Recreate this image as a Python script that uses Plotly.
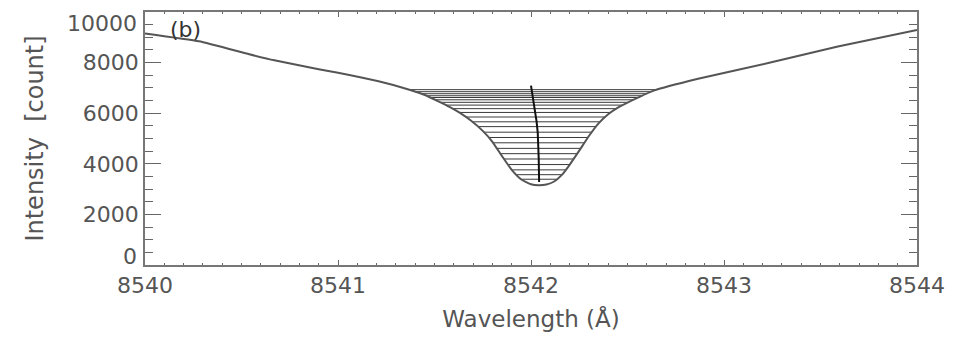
import numpy as np
import plotly.graph_objects as go

# Line profile (wavelength in Angstrom, intensity in counts)
wavelength = [8540.00, 8540.28, 8540.54, 8540.67, 8540.90, 8541.00, 8541.21, 8541.37,
              8541.45, 8541.52, 8541.58, 8541.63, 8541.69, 8541.75, 8541.80, 8541.85,
              8541.90, 8541.95, 8542.00, 8542.04, 8542.08, 8542.12, 8542.16, 8542.20,
              8542.25, 8542.30, 8542.35, 8542.40, 8542.45, 8542.49, 8542.64, 8542.86,
              8543.24, 8543.59, 8544.00]
intensity = [9150, 8840, 8330, 8090, 7740, 7600, 7260, 6930,
             6720, 6470, 6240, 6020, 5700, 5300, 4870, 4300,
             3760, 3380, 3190, 3150, 3180, 3300, 3560, 3960,
             4520, 5100, 5600, 5960, 6220, 6380, 6900, 7350,
             8000, 8640, 9290]

# Intensity levels of the horizontal chords
chord_levels = [6930, 6850, 6770, 6690, 6620, 6530, 6430, 6320, 6180, 6030, 5850, 5660,
                5470, 5250, 5040, 4830, 4610, 4400, 4190, 3970, 3760, 3570, 3390]

# Bisector
bisector_wl = [8542.000, 8542.007, 8542.021, 8542.029, 8542.035, 8542.038, 8542.040, 8542.042]
bisector_I = [7090, 6770, 6120, 5670, 5220, 4830, 4190, 3280]

x_ticks = [8540, 8541, 8542, 8543, 8544]
y_ticks = [0, 2000, 4000, 6000, 8000, 10000]
y_ticktext = ["", "2000", "4000", "6000", "8000", ""]

wl = np.array(wavelength)
inten = np.array(intensity, dtype=float)
imin = int(np.argmin(inten))
lw, li = wl[:imin + 1], inten[:imin + 1]
rw, ri = wl[imin:], inten[imin:]

cx, cy = [], []
for lev in chord_levels:
    xl = np.interp(lev, li[::-1], lw[::-1])
    xr = np.interp(lev, ri, rw)
    cx += [xl, xr, None]
    cy += [lev, lev, None]

FONT = "DejaVu Sans"
GREY = "#555555"

fig = go.Figure()
fig.add_trace(go.Scatter(x=cx, y=cy, mode="lines",
                         line=dict(color="#3a3a3a", width=1), hoverinfo="skip"))
fig.add_trace(go.Scatter(x=wavelength, y=intensity, mode="lines",
                         line=dict(color="#555555", width=2, shape="spline", smoothing=0.4)))
fig.add_trace(go.Scatter(x=bisector_wl, y=bisector_I, mode="lines",
                         line=dict(color="#111111", width=2)))

fig.update_layout(
    width=955, height=338,
    margin=dict(l=145, r=35, t=10, b=70),
    paper_bgcolor="white", plot_bgcolor="white",
    showlegend=False,
    font=dict(family=FONT, color=GREY, size=22),
    xaxis=dict(
        range=[8540, 8544], tickmode="array", tickvals=x_ticks,
        ticks="inside", ticklen=5, tickwidth=1.2, tickcolor="#666666",
        showline=True, linecolor="#777777", linewidth=1.5, mirror="ticks",
        showgrid=False, zeroline=False,
        tickfont=dict(family=FONT, size=22, color=GREY),
        minor=dict(tickmode="linear", tick0=8540, dtick=0.1, ticks="inside",
                   ticklen=2.5, tickwidth=1, tickcolor="#666666", showgrid=False),
        title=dict(text="Wavelength (Å)", font=dict(family=FONT, size=23, color=GREY),
                   standoff=14),
    ),
    yaxis=dict(
        range=[0, 10000], tickmode="array", tickvals=y_ticks, ticktext=y_ticktext,
        ticks="inside", ticklen=16, tickwidth=1.2, tickcolor="#666666",
        showline=True, linecolor="#777777", linewidth=1.5, mirror="ticks",
        showgrid=False, zeroline=False,
        tickfont=dict(family=FONT, size=22, color=GREY),
        minor=dict(tickmode="linear", tick0=0, dtick=500, ticks="inside",
                   ticklen=8, tickwidth=1, tickcolor="#666666", showgrid=False),
        title=dict(text="Intensity  [count]", font=dict(family=FONT, size=24, color=GREY),
                   standoff=32),
    ),
    annotations=[
        dict(text="10000", x=0, xref="paper", y=10000, yref="y", xanchor="right",
             yanchor="middle", xshift=-6, yshift=-11, showarrow=False,
             font=dict(family=FONT, size=22, color=GREY)),
        dict(text="0", x=0, xref="paper", y=0, yref="y", xanchor="right",
             yanchor="middle", xshift=-6, yshift=9, showarrow=False,
             font=dict(family=FONT, size=22, color=GREY)),
        dict(text="(b)", x=0.053, xref="paper", y=0.93, yref="paper", xanchor="center",
             yanchor="middle", showarrow=False,
             font=dict(family=FONT, size=22, color="#333333")),
    ],
)

fig.write_html("out.html")
